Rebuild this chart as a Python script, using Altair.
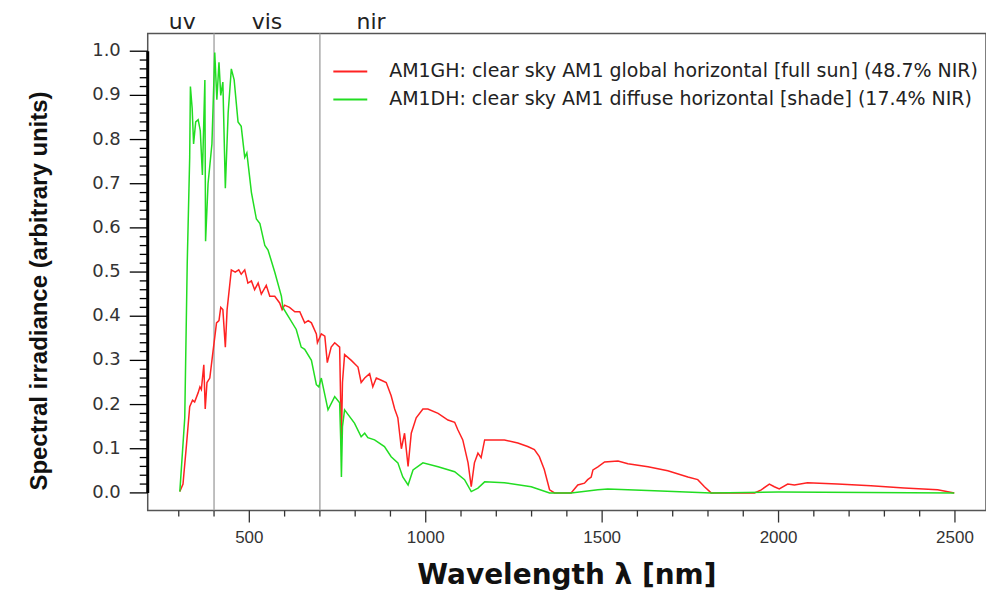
import altair as alt
import pandas as pd

GH = "AM1GH: clear sky AM1 global horizontal [full sun] (48.7% NIR)"
DH = "AM1DH: clear sky AM1 diffuse horizontal [shade] (17.4% NIR)"

gh_wl = [303, 312, 322, 331, 339, 345, 355, 360, 364, 371, 375, 380, 388, 397, 407, 414, 419, 425, 432, 437,
         449, 460, 470, 477, 487, 496, 506, 515, 525, 534, 548, 558, 572, 586, 593, 600, 614, 629, 643, 657,
         667, 676, 690, 693, 704, 714, 721, 732, 742, 756, 759, 761, 764, 770, 789, 808, 817, 827, 841, 850,
         860, 874, 888, 902, 912, 921, 931, 940, 950, 959, 973, 992, 1006, 1035, 1063, 1082, 1091, 1105, 1120, 1129,
         1138, 1148, 1157, 1167, 1185, 1223, 1261, 1289, 1308, 1322, 1336, 1351, 1365, 1412, 1431, 1450, 1459, 1469, 1474, 1488,
         1507, 1545, 1573, 1630, 1686, 1743, 1771, 1790, 1809, 1932, 1951, 1974, 1988, 2002, 2026, 2045, 2082, 2167, 2262, 2356,
         2451, 2498]
gh_val = [0.003, 0.02, 0.11, 0.195, 0.21, 0.206, 0.227, 0.24, 0.234, 0.29, 0.19, 0.25, 0.26, 0.32, 0.385, 0.39, 0.42, 0.415, 0.33, 0.415,
          0.505, 0.50, 0.505, 0.495, 0.505, 0.475, 0.48, 0.46, 0.475, 0.45, 0.47, 0.445, 0.445, 0.43, 0.415, 0.425, 0.42, 0.41, 0.41, 0.385,
          0.39, 0.385, 0.36, 0.34, 0.36, 0.355, 0.295, 0.33, 0.34, 0.33, 0.20, 0.12, 0.25, 0.313, 0.30, 0.285, 0.25, 0.26, 0.27, 0.24,
          0.26, 0.255, 0.25, 0.22, 0.19, 0.17, 0.10, 0.135, 0.06, 0.135, 0.17, 0.19, 0.19, 0.18, 0.165, 0.16, 0.143, 0.12, 0.068, 0.014,
          0.068, 0.09, 0.08, 0.12, 0.12, 0.12, 0.113, 0.105, 0.098, 0.082, 0.053, 0.007, 0.0, 0.0, 0.018, 0.022, 0.03, 0.036, 0.052, 0.059,
          0.07, 0.072, 0.066, 0.059, 0.05, 0.036, 0.03, 0.014, 0.0, 0.0, 0.007, 0.02, 0.014, 0.009, 0.02, 0.018, 0.023, 0.02, 0.016, 0.011,
          0.007, 0.0]

dh_wl = [303, 317, 324, 331, 333, 338, 342, 348, 355, 361, 367, 374, 376, 383, 394, 402, 408, 414, 419, 425,
         432, 440, 449, 457, 468, 477, 487, 493, 506, 520, 530, 544, 553, 572, 591, 595, 610, 633, 647, 657,
         676, 690, 697, 704, 723, 742, 756, 759, 761, 764, 770, 798, 817, 827, 836, 855, 883, 902, 921, 935,
         950, 964, 992, 1035, 1082, 1110, 1129, 1148, 1167, 1223, 1299, 1351, 1412, 1488, 1516, 1648, 1809, 2000, 2498]
dh_val = [0.003, 0.17, 0.52, 0.76, 0.92, 0.87, 0.79, 0.84, 0.845, 0.82, 0.72, 0.935, 0.57, 0.70, 0.79, 0.997, 0.89, 0.975, 0.90, 0.93,
          0.69, 0.86, 0.96, 0.935, 0.84, 0.83, 0.76, 0.77, 0.68, 0.62, 0.61, 0.56, 0.55, 0.50, 0.445, 0.42, 0.40, 0.37, 0.33, 0.325,
          0.30, 0.245, 0.24, 0.26, 0.188, 0.218, 0.204, 0.12, 0.036, 0.15, 0.188, 0.158, 0.127, 0.135, 0.125, 0.12, 0.105, 0.082, 0.068, 0.036,
          0.018, 0.052, 0.068, 0.059, 0.048, 0.03, 0.003, 0.011, 0.025, 0.023, 0.014, 0.0, 0.0, 0.007, 0.009, 0.005, 0.0, 0.002, 0.0]

x_major = [500, 1000, 1500, 2000, 2500]
x_major_labels = ["500", "1000", "1500", "2000", "2500"]
x_minor = [v for v in range(300, 2501, 100) if v % 500]
y_major = [0.0, 0.1, 0.2, 0.3, 0.4, 0.5, 0.6, 0.7, 0.8, 0.9, 1.0]
y_major_labels = ["0.0", "0.1", "0.2", "0.3", "0.4", "0.5", "0.6", "0.7", "0.8", "0.9", "1.0"]
y_minor = [round(i * 0.02, 2) for i in range(51) if i % 5]

band_edges = [400, 700]
band_names = ["uv", "vis", "nir"]
band_pos = [310, 550, 845]

X_TITLE = "Wavelength λ [nm]"
Y_TITLE = "Spectral irradiance (arbitrary units)"

W, H = 840, 478

df = pd.concat([
    pd.DataFrame({"wl": gh_wl, "val": gh_val, "series": GH}),
    pd.DataFrame({"wl": dh_wl, "val": dh_val, "series": DH}),
], ignore_index=True)
edges = pd.DataFrame({"wl": band_edges})
bands = pd.DataFrame({"wl": band_pos, "name": band_names})
xmaj_df = pd.DataFrame({"wl": x_major, "lab": x_major_labels})
ymaj_df = pd.DataFrame({"val": y_major, "lab": y_major_labels})
xmin_df = pd.DataFrame({"wl": x_minor})
ymin_df = pd.DataFrame({"val": y_minor})
ydom_df = pd.DataFrame({"v0": [y_major[0]], "v1": [y_major[-1]]})
titles_df = pd.DataFrame({"t": [X_TITLE]})
ytitle_df = pd.DataFrame({"t": [Y_TITLE]})

xs = alt.Scale(domain=[212, 2588], nice=False, zero=False)
ys = alt.Scale(domain=[-0.04, 1.04], nice=False, zero=False)

lines = alt.Chart(df).mark_line(strokeWidth=1.5).encode(
    x=alt.X("wl:Q", scale=xs, axis=None),
    y=alt.Y("val:Q", scale=ys, axis=None),
    color=alt.Color("series:N", scale=alt.Scale(domain=[GH, DH], range=["#ff2222", "#22dd22"]),
                    legend=alt.Legend(orient="none", legendX=185, legendY=20, title=None,
                                      symbolType="stroke", symbolSize=1156, symbolStrokeWidth=2,
                                      labelFont="DejaVu Sans", labelFontSize=19, labelColor="#222",
                                      labelOffset=21, labelLimit=0, padding=0, rowPadding=-16)),
    order="wl:Q",
)

rules = alt.Chart(edges).mark_rule(color="#aaaaaa", strokeWidth=1.5).encode(
    x=alt.X("wl:Q", scale=xs, axis=None)
)

x_major_ticks = alt.Chart(xmaj_df).mark_rule(color="#333333", strokeWidth=1.3).encode(
    x=alt.X("wl:Q", scale=xs, axis=None), y=alt.value(H), y2=alt.value(H + 12))
x_minor_ticks = alt.Chart(xmin_df).mark_rule(color="#333333", strokeWidth=1.3).encode(
    x=alt.X("wl:Q", scale=xs, axis=None), y=alt.value(H), y2=alt.value(H + 6))
x_labels = alt.Chart(xmaj_df).mark_text(font="Liberation Sans", fontSize=17, color="#333",
                                        baseline="top", align="center").encode(
    x=alt.X("wl:Q", scale=xs, axis=None), y=alt.value(H + 19), text="lab:N")

y_domain = alt.Chart(ydom_df).mark_rule(color="#000000", strokeWidth=3).encode(
    y=alt.Y("v0:Q", scale=ys, axis=None), y2="v1:Q", x=alt.value(0))
y_major_ticks = alt.Chart(ymaj_df).mark_rule(color="#000000", strokeWidth=1.3).encode(
    y=alt.Y("val:Q", scale=ys, axis=None), x=alt.value(-18), x2=alt.value(0))
y_minor_ticks = alt.Chart(ymin_df).mark_rule(color="#000000", strokeWidth=1.3).encode(
    y=alt.Y("val:Q", scale=ys, axis=None), x=alt.value(-8), x2=alt.value(0))
y_labels = alt.Chart(ymaj_df).mark_text(font="DejaVu Sans", fontSize=18, color="#333",
                                        baseline="middle", align="right").encode(
    y=alt.Y("val:Q", scale=ys, axis=None), x=alt.value(-27), text="lab:N")

x_title = alt.Chart(titles_df).mark_text(font="DejaVu Sans", fontSize=28, fontWeight="bold",
                                         color="#111", baseline="alphabetic", align="center").encode(
    x=alt.value(W / 2), y=alt.value(H + 74), text="t:N")
y_title = alt.Chart(ytitle_df).mark_text(font="Liberation Sans", fontSize=24, fontWeight="bold",
                                         color="#111", baseline="middle", align="center",
                                         angle=270).encode(
    x=alt.value(-108), y=alt.value(258), text="t:N")

band_labels = alt.Chart(bands).mark_text(font="DejaVu Sans", fontSize=22, color="#222",
                                         baseline="alphabetic", align="center").encode(
    x=alt.X("wl:Q", scale=xs, axis=None),
    y=alt.value(-5),
    text="name:N",
)

chart = alt.layer(
    rules, lines, band_labels, x_labels, y_labels, x_title, y_title,
    x_major_ticks, x_minor_ticks, y_major_ticks, y_minor_ticks, y_domain
).properties(
    width=W, height=H, autosize="none",
    padding={"left": 140, "top": 25, "right": 0, "bottom": 80},
).configure_view(stroke="#555", strokeWidth=1.5)

chart.save("out.html", embed_options={"renderer": "svg", "actions": False})
